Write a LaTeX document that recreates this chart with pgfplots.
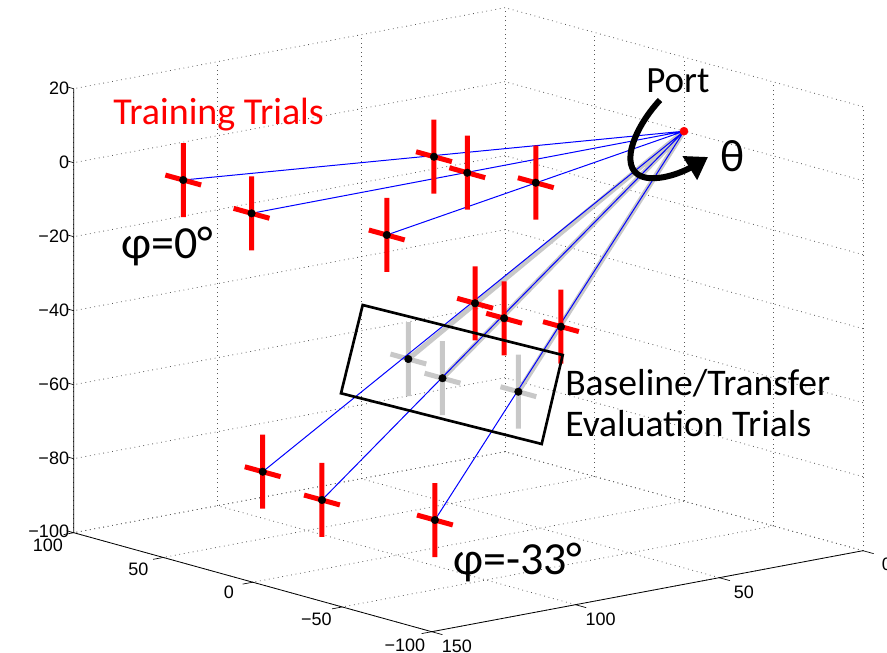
\documentclass[border=0pt]{standalone}
\usepackage{fontspec}
\setmainfont{Liberation Sans}
\newfontfamily\calib{Carlito}
\usepackage{pgfplots}
\pgfplotsset{compat=1.18}
\usetikzlibrary{arrows.meta}
\definecolor{mred}{RGB}{255,0,0}
\definecolor{mblue}{RGB}{0,0,255}
\definecolor{lgray}{RGB}{200,200,200}
\begin{document}
\begin{tikzpicture}
\begin{axis}[
  x={(-1.3425pt,0.37125pt)}, y={(-2.15625pt,-0.405pt)}, z={(0pt,2.775pt)},
  xmin=-100,xmax=100,ymin=0,ymax=150,zmin=-100,zmax=20,
  xtick={-100,-50,0,50,100}, xticklabels={−100,−50,0,50,100},
  ytick={0,50,100,150}, yticklabels={0,50,100,150},
  ztick={-100,-80,-60,-40,-20,0,20}, zticklabels={−100,−80,−60,−40,−20,0,20},
  ticklabel style={font=\fontsize{13.5}{14}\selectfont},
  xticklabel style={xshift=-11pt, yshift=0.5pt},
  yticklabel style={xshift=11.5pt, yshift=-1.5pt},
  clip=false,
  axis line style={draw=none},
  grid=major,
  major grid style={black!65, line width=0.6pt, dash pattern=on 0.6pt off 2.8pt},
  tick style={draw=none},
  unbounded coords=jump,
]
\coordinate (O) at (axis cs:0,0,0);
% axes
\addplot3[black, line width=0.6pt] coordinates {(100,150,20) (100,150,-100) (-100,150,-100) (-100,0,-100)};
% tick marks
\addplot3[black, line width=0.5pt] coordinates {
 (100,150,20) (104,150,20) (nan,nan,nan) (100,150,0) (104,150,0) (nan,nan,nan)
 (100,150,-20) (104,150,-20) (nan,nan,nan) (100,150,-40) (104,150,-40) (nan,nan,nan)
 (100,150,-60) (104,150,-60) (nan,nan,nan) (100,150,-80) (104,150,-80) (nan,nan,nan)
 (100,150,-100) (104,150,-100) (nan,nan,nan)
 (100,150,-100) (100,153.5,-100) (nan,nan,nan) (50,150,-100) (50,153.5,-100) (nan,nan,nan)
 (0,150,-100) (0,153.5,-100) (nan,nan,nan) (-50,150,-100) (-50,153.5,-100) (nan,nan,nan)
 (-100,150,-100) (-100,153.5,-100) (nan,nan,nan)
 (-100,150,-100) (-106,150,-100) (nan,nan,nan) (-100,100,-100) (-106,100,-100) (nan,nan,nan)
 (-100,50,-100) (-106,50,-100) (nan,nan,nan) (-100,0,-100) (-106,0,-100)};
% gray thick lines port -> evaluation trials
\addplot3[lgray, line width=3.75pt] coordinates {
 (0,0,0) (30.8,76.7,-54.5) (nan,nan,nan)
 (0,0,0) (0,84,-54.5) (nan,nan,nan)
 (0,0,0) (-33.4,78.4,-54.5)};
% gray crosses
\addplot3[lgray, line width=3.75pt] coordinates {
 (20.8,76.7,-54.5) (40.8,76.7,-54.5) (nan,nan,nan) (30.8,76.7,-64.5) (30.8,76.7,-44.5) (nan,nan,nan)
 (-10,84,-54.5) (10,84,-54.5) (nan,nan,nan) (0,84,-64.5) (0,84,-44.5) (nan,nan,nan)
 (-43.4,78.4,-54.5) (-23.4,78.4,-54.5) (nan,nan,nan) (-33.4,78.4,-64.5) (-33.4,78.4,-44.5)};
% blue lines
\addplot3[mblue, line width=0.75pt] coordinates {
 (0,0,0) (54.4,140.3,0) (nan,nan,nan)
 (0,0,0) (-1.1,151.1,0) (nan,nan,nan)
 (0,0,0) (-57.7,139.3,0) (nan,nan,nan)
 (0,0,0) (49.2,115.9,-81.7) (nan,nan,nan)
 (0,0,0) (1.8,124.8,-81.7) (nan,nan,nan)
 (0,0,0) (-47.8,116.4,-81.7)};
% red crosses (training trials)
\addplot3[mred, line width=3.75pt] coordinates {
 (15.8,70.9,0) (35.8,70.9,0) (nan,nan,nan) (25.8,70.9,-10) (25.8,70.9,10) (nan,nan,nan)
 (-11,76,0) (9,76,0) (nan,nan,nan) (-1,76,-10) (-1,76,10) (nan,nan,nan)
 (-38.5,69.3,0) (-18.5,69.3,0) (nan,nan,nan) (-28.5,69.3,-10) (-28.5,69.3,10) (nan,nan,nan)
 (44.4,140.3,0) (64.4,140.3,0) (nan,nan,nan) (54.4,140.3,-10) (54.4,140.3,10) (nan,nan,nan)
 (-11.1,151.1,0) (8.9,151.1,0) (nan,nan,nan) (-1.1,151.1,-10) (-1.1,151.1,10) (nan,nan,nan)
 (-67.7,139.3,0) (-47.7,139.3,0) (nan,nan,nan) (-57.7,139.3,-10) (-57.7,139.3,10) (nan,nan,nan)
 (11.8,59.1,-40.8) (31.8,59.1,-40.8) (nan,nan,nan) (21.8,59.1,-50.8) (21.8,59.1,-30.8) (nan,nan,nan)
 (-12.8,64.3,-40.8) (7.2,64.3,-40.8) (nan,nan,nan) (-2.8,64.3,-50.8) (-2.8,64.3,-30.8) (nan,nan,nan)
 (-35.7,58.8,-40.8) (-15.7,58.8,-40.8) (nan,nan,nan) (-25.7,58.8,-50.8) (-25.7,58.8,-30.8) (nan,nan,nan)
 (39.2,115.9,-81.7) (59.2,115.9,-81.7) (nan,nan,nan) (49.2,115.9,-91.7) (49.2,115.9,-71.7) (nan,nan,nan)
 (-8.2,124.8,-81.7) (11.8,124.8,-81.7) (nan,nan,nan) (1.8,124.8,-91.7) (1.8,124.8,-71.7) (nan,nan,nan)
 (-57.8,116.4,-81.7) (-37.8,116.4,-81.7) (nan,nan,nan) (-47.8,116.4,-91.7) (-47.8,116.4,-71.7)};
% black mean dots
\addplot3[only marks, mark=*, mark size=2.8pt, black] coordinates {
 (25.8,70.9,0) (-1,76,0) (-28.5,69.3,0) (54.4,140.3,0) (-1.1,151.1,0) (-57.7,139.3,0)
 (21.8,59.1,-40.8) (-2.8,64.3,-40.8) (-25.7,58.8,-40.8)
 (30.8,76.7,-54.5) (0,84,-54.5) (-33.4,78.4,-54.5)
 (49.2,115.9,-81.7) (1.8,124.8,-81.7) (-47.8,116.4,-81.7)};
% port
\addplot3[only marks, mark=*, mark size=3pt, mred] coordinates {(0,0,0)};
\end{axis}
\begin{scope}[shift={(O)}]
\begin{scope}[x=0.75pt,y=-0.75pt,shift={(-684,-131.2)}]
\coordinate (TL) at (0,0);
\coordinate (BR) at (887,652);
\draw[black, line width=2pt, line join=miter] (362.7,305) -- (562.7,355) -- (541.7,444) -- (341,393.3) -- cycle;
\draw[black, line width=4.5pt, -{Triangle[length=16pt,width=20pt]}]
  (660,100) .. controls (632,130) and (616,174) .. (648,178) .. controls (668,180) and (690,168) .. (708,157);
\node[anchor=base west, inner sep=0pt, text=mred, font=\calib\fontsize{28.5}{33}\selectfont] at (113,125) {Training Trials};
\node[anchor=base west, inner sep=0pt, font=\calib\fontsize{27.75}{33}\selectfont] at (646,93) {Port};
\node[anchor=base west, inner sep=0pt, font=\calib\fontsize{34}{38}\selectfont] at (720,172) {θ};
\node[anchor=base west, inner sep=0pt, font=\calib\fontsize{34.5}{40}\selectfont] at (121,259) {φ=0°};
\node[anchor=base west, inner sep=0pt, font=\calib\fontsize{34.5}{40}\selectfont] at (453,575) {φ=-33°};
\node[anchor=base west, inner sep=0pt, font=\calib\fontsize{28.2}{33}\selectfont] at (565,396) {Baseline/Transfer};
\node[anchor=base west, inner sep=0pt, font=\calib\fontsize{28.2}{33}\selectfont] at (565,436.7) {Evaluation Trials};
\end{scope}
\end{scope}
\pgfresetboundingbox
\path[use as bounding box] (TL) rectangle (BR);
\end{tikzpicture}
\end{document}
